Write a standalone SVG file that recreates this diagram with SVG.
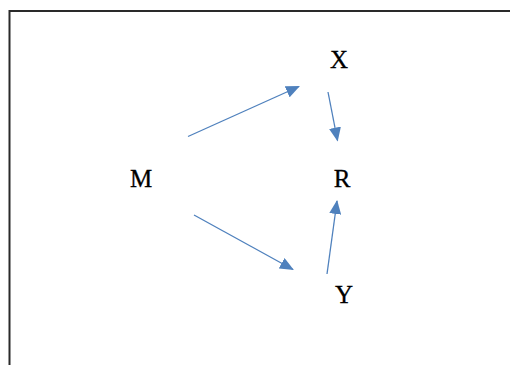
<svg xmlns="http://www.w3.org/2000/svg" width="510" height="365" viewBox="0 0 510 365">
<style>
.lbl{font-family:"Liberation Serif","Times New Roman",serif;font-size:25px;fill:#000;stroke:#000;stroke-width:0.3;text-anchor:middle}
.edge{stroke:#4F81BD;stroke-width:1.3;fill:none;marker-end:url(#ah)}
</style>
<defs>
<marker id="ah" markerUnits="userSpaceOnUse" markerWidth="14" markerHeight="12" viewBox="0 0 14 12" refX="13" refY="6" orient="auto">
<path d="M0,0 L14,6 L0,12 Z" fill="#4F81BD"/>
</marker>
</defs>
<rect width="510" height="365" fill="#fff"/>
<path d="M9.5,365 V11 H510" fill="none" stroke="#2a2a2a" stroke-width="2"/>
<g id="connectors">
<line class="edge" x1="188" y1="136.5" x2="299" y2="86.5"/>
<line class="edge" x1="328" y1="92" x2="337.5" y2="140.5"/>
<line class="edge" x1="194" y1="215" x2="293" y2="269.5"/>
<line class="edge" x1="327" y1="274" x2="337" y2="201"/>
</g>
<g id="node-X"><text class="lbl" x="339" y="68">X</text></g>
<g id="node-M"><text class="lbl" x="141" y="187">M</text></g>
<g id="node-R"><text class="lbl" x="342" y="187">R</text></g>
<g id="node-Y"><text class="lbl" x="344" y="303">Y</text></g>
</svg>
